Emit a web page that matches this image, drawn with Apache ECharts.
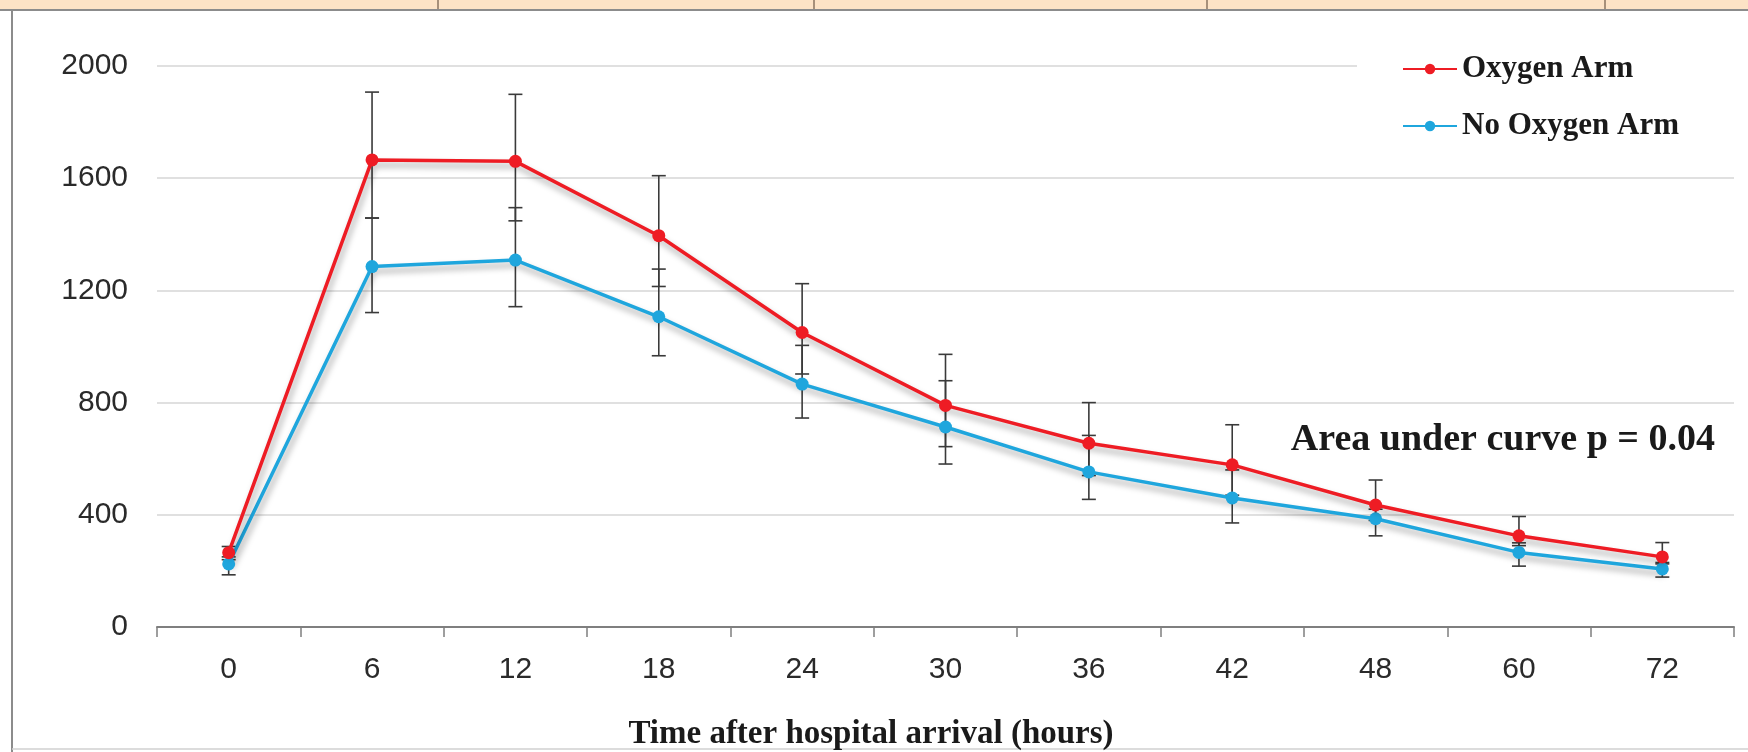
<!DOCTYPE html>
<html>
<head>
<meta charset="utf-8">
<script src="https://cdn.jsdelivr.net/npm/echarts@6/dist/echarts.min.js"></script>
<style>
html,body{margin:0;padding:0;background:#fff;}
#chart{width:1748px;height:752px;}
</style>
</head>
<body>
<div id="chart"></div>
<script>
// ---- data ----
const categories = ['0','6','12','18','24','30','36','42','48','60','72'];
const oxygenArm = [265, 1665, 1660, 1395, 1050, 790, 655, 578, 435, 325, 250];
const noOxygenArm = [225, 1285, 1308, 1106, 866, 713, 553, 460, 386, 266, 207];
const oxygenHigh = [287, 1907, 1899, 1609, 1224, 972, 800, 721, 524, 394, 301];
const oxygenLow = [250, 1458, 1448, 1214, 902, 643, 540, 470, 380, 290, 230];
const noOxygenHigh = [240, 1458, 1495, 1276, 1004, 878, 683, 560, 420, 300, 225];
const noOxygenLow = [186, 1121, 1142, 967, 745, 581, 455, 371, 325, 217, 178];
const yTicks = [0, 400, 800, 1200, 1600, 2000];
const seriesNames = ['Oxygen Arm', 'No Oxygen Arm'];
const xAxisTitle = 'Time after hospital arrival (hours)';
const annotation = 'Area under curve p = 0.04';

const RED = '#ee1c24';
const BLUE = '#1fa6dd';

const errData = [];
categories.forEach((c, i) => {
  errData.push([i, oxygenLow[i], oxygenHigh[i]]);
  errData.push([i, noOxygenLow[i], noOxygenHigh[i]]);
});

function renderErr(params, api) {
  const x = api.value(0);
  const lo = api.coord([x, api.value(1)]);
  const hi = api.coord([x, api.value(2)]);
  const w = 7;
  const st = {stroke: '#3a3a3a', lineWidth: 1.6};
  return {
    type: 'group',
    children: [
      {type: 'line', shape: {x1: hi[0], y1: hi[1], x2: lo[0], y2: lo[1]}, style: st},
      {type: 'line', shape: {x1: hi[0] - w, y1: hi[1], x2: hi[0] + w, y2: hi[1]}, style: st},
      {type: 'line', shape: {x1: lo[0] - w, y1: lo[1], x2: lo[0] + w, y2: lo[1]}, style: st}
    ]
  };
}

const lineShadow = {shadowColor: 'rgba(0,0,0,0.35)', shadowBlur: 6, shadowOffsetX: 2, shadowOffsetY: 5};

const chart = echarts.init(document.getElementById('chart'), null, {renderer: 'canvas'});
chart.setOption({
  animation: false,
  backgroundColor: '#fff',
  grid: {left: 157, right: 14, top: 66, bottom: 125, containLabel: false},
  legend: {
    data: seriesNames,
    orient: 'vertical',
    left: 1357,
    top: 43,
    padding: [8, 70, 10, 45],
    backgroundColor: '#fff',
    itemWidth: 54,
    itemHeight: 13,
    itemGap: 21,
    textStyle: {fontFamily: 'Liberation Serif', fontWeight: 'bold', fontSize: 31, color: '#1a1a1a', lineHeight: 36}
  },
  xAxis: {
    type: 'category',
    data: categories,
    boundaryGap: true,
    axisLine: {lineStyle: {color: '#7f7f7f', width: 2}},
    axisTick: {show: true, length: 10, interval: 0, lineStyle: {color: '#7f7f7f', width: 1.5}},
    axisLabel: {margin: 28, fontSize: 30, fontFamily: 'Liberation Sans', color: '#2a2a2a'},
    splitLine: {show: false}
  },
  yAxis: {
    type: 'value',
    min: yTicks[0],
    max: yTicks[yTicks.length - 1],
    interval: 400,
    axisLine: {show: false},
    axisTick: {show: false},
    axisLabel: {margin: 29, fontSize: 30, fontFamily: 'Liberation Sans', color: '#2a2a2a', formatter: v => String(v)},
    splitLine: {lineStyle: {color: '#d6d6d6', width: 1.5}}
  },
  graphic: [
    {type: 'rect', shape: {x: 0, y: 0, width: 1748, height: 9}, style: {fill: '#fde3c6'}, silent: true},
    {type: 'line', shape: {x1: 0, y1: 10, x2: 1748, y2: 10}, style: {stroke: '#8c8c8c', lineWidth: 2}, silent: true},
    {type: 'line', shape: {x1: 438, y1: 0, x2: 438, y2: 9}, style: {stroke: '#8a7560', lineWidth: 1.5}, silent: true},
    {type: 'line', shape: {x1: 814, y1: 0, x2: 814, y2: 9}, style: {stroke: '#8a7560', lineWidth: 1.5}, silent: true},
    {type: 'line', shape: {x1: 1207, y1: 0, x2: 1207, y2: 9}, style: {stroke: '#8a7560', lineWidth: 1.5}, silent: true},
    {type: 'line', shape: {x1: 1605, y1: 0, x2: 1605, y2: 9}, style: {stroke: '#8a7560', lineWidth: 1.5}, silent: true},
    {type: 'line', shape: {x1: 12, y1: 10, x2: 12, y2: 752}, style: {stroke: '#8c8c8c', lineWidth: 2}, silent: true},
    {type: 'line', shape: {x1: 12, y1: 749, x2: 1748, y2: 749}, style: {stroke: '#d0d0d0', lineWidth: 1.5}, silent: true},
    {type: 'text', x: 871, y: 734, style: {text: xAxisTitle, fontFamily: 'Liberation Serif', fontWeight: 'bold', fontSize: 33, fill: '#1a1a1a', textAlign: 'center', textVerticalAlign: 'middle'}, silent: true},
    {type: 'text', x: 1715, y: 440, style: {text: annotation, fontFamily: 'Liberation Serif', fontWeight: 'bold', fontSize: 38, fill: '#1a1a1a', textAlign: 'right', textVerticalAlign: 'middle'}, silent: true}
  ],
  series: [
    {
      type: 'custom',
      name: 'err',
      renderItem: renderErr,
      data: errData,
      encode: {x: 0, y: [1, 2]},
      z: 1,
      silent: true
    },
    {
      type: 'line',
      name: seriesNames[0],
      data: oxygenArm,
      symbol: 'circle',
      symbolSize: 13,
      color: RED,
      lineStyle: Object.assign({color: RED, width: 3.5}, lineShadow),
      itemStyle: {color: RED},
      z: 3
    },
    {
      type: 'line',
      name: seriesNames[1],
      data: noOxygenArm,
      symbol: 'circle',
      symbolSize: 13,
      color: BLUE,
      lineStyle: Object.assign({color: BLUE, width: 3.5}, lineShadow),
      itemStyle: {color: BLUE},
      z: 2
    }
  ]
});
</script>
</body>
</html>
